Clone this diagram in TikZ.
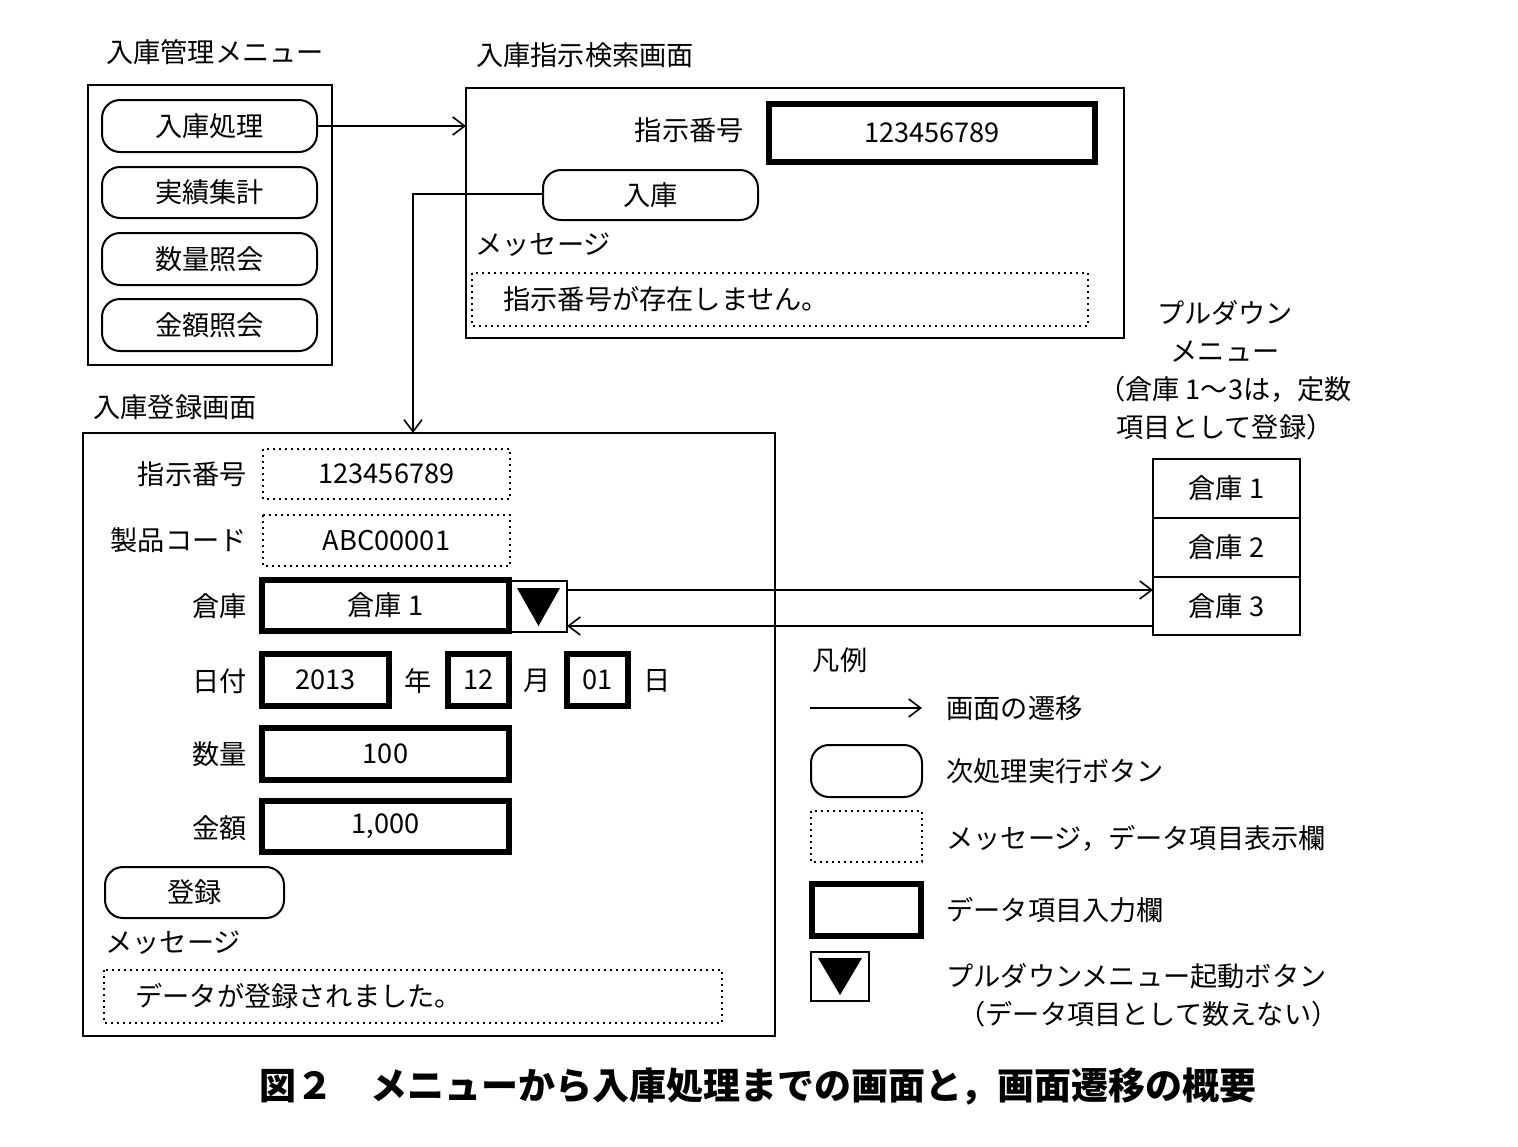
\documentclass[tikz,border=0pt]{standalone}
\usepackage{fontspec}
\setmainfont{Noto Sans CJK JP}
\usetikzlibrary{arrows.meta}
\begin{document}
\begin{tikzpicture}[x=0.5pt,y=-0.5pt,
 font=\fontsize{13.6pt}{15pt}\selectfont,
 frame/.style={draw,line width=1pt},
 btn/.style={draw,line width=1pt,rounded corners=9pt},
 disp/.style={draw,line width=1pt,dotted},
 inp/.style={draw,line width=2.6pt},
 arr/.style={-{Straight Barb[length=6pt,width=9pt]},line width=0.8pt},
 lbl/.style={anchor=east,inner sep=0pt},
 txt/.style={anchor=west,inner sep=0pt}]
\useasboundingbox (0,0) rectangle (1518,1146);
% menu
\node (t1) at (215,52) {入庫管理メニュー};
\draw[frame] (88,85) rectangle (332,365);
\draw[btn] (102,100) rectangle (317,152) node[midway] (b1) {入庫処理};
\draw[btn] (102,167) rectangle (317,218) node[midway] (b2) {実績集計};
\draw[btn] (102,233) rectangle (317,285) node[midway] (b3) {数量照会};
\draw[btn] (102,299) rectangle (317,351) node[midway] (b4) {金額照会};
% search screen
\node (t2) at (585,55) {入庫指示検索画面};
\draw[frame] (466,88) rectangle (1124,338);
\node[lbl] (l1) at (744,130) {指示番号};
\draw[inp] (769,104) rectangle (1095,162) node[midway] (s1) {123456789};
\draw[btn] (543,170) rectangle (758,220) node[midway] (bn) {入庫};
\node[txt] (m1) at (475,245) {メッセージ};
\draw[disp] (472,273) rectangle (1088,326);
\node[txt] (m1t) at (503,299) {指示番号が存在しません。};
\coordinate (a1s) at (317,126); \coordinate (a1e) at (466,126);
\draw[arr] (a1s) -- (a1e);
\coordinate (a2s) at (543,194); \coordinate (a2e) at (413,433);
\draw[arr] (a2s) -| (a2e);
% register screen
\node (t3) at (175,407) {入庫登録画面};
\draw[frame] (83,433) rectangle (775,1036);
\node[lbl] at (247,474) {指示番号};
\draw[disp] (263,449) rectangle (510,499) node[midway] {123456789};
\node[lbl] at (247,540) {製品コード};
\draw[disp] (263,515) rectangle (510,566) node[midway] {ABC00001};
\node[lbl] at (247,606) {倉庫};
\draw[inp] (262,580) rectangle (509,631) node[midway] {倉庫 1};
\draw[frame] (510,581) rectangle (567,632);
\fill (517,588) -- (560,588) -- (538.5,626) -- cycle;
\node[lbl] at (247,681) {日付};
\draw[inp] (262,654) rectangle (389,706) node[midway] {2013};
\node at (418,681) {年};
\draw[inp] (448,654) rectangle (509,706) node[midway] {12};
\node at (537,681) {月};
\draw[inp] (567,654) rectangle (628,706) node[midway] {01};
\node at (657,681) {日};
\node[lbl] at (247,754) {数量};
\draw[inp] (262,728) rectangle (509,780) node[midway] {100};
\node[lbl] at (247,828) {金額};
\draw[inp] (262,801) rectangle (509,852) node[midway] {1,000};
\draw[btn] (105,867) rectangle (284,918) node[midway] {登録};
\node[txt] at (105,943) {メッセージ};
\draw[disp] (104,970) rectangle (722,1023);
\node[txt] at (135,996) {データが登録されました。};
% pulldown
\node[align=center,font=\fontsize{13.6pt}{19pt}\selectfont] (pt) at (1225,370) {プルダウン\\メニュー\\（倉庫 1〜3は，定数\\項目として登録）};
\draw[frame] (1153,459) rectangle (1300,518) node[midway] {倉庫 1};
\draw[frame] (1153,518) rectangle (1300,577) node[midway] {倉庫 2};
\draw[frame] (1153,577) rectangle (1300,635) node[midway] (p3) {倉庫 3};
\coordinate (d1) at (567,590); \coordinate (d2) at (1153,590);
\coordinate (d3) at (1153,626); \coordinate (d4) at (567,626);
\draw[arr] (d1) -- (d2);
\draw[arr] (d3) -- (d4);
% legend
\node (lg) at (840,660) {凡例};
\coordinate (la) at (810,708); \coordinate (lb) at (922,708);
\draw[arr] (la) -- (lb);
\node[txt] at (946,708) {画面の遷移};
\draw[btn] (811,745) rectangle (922,797);
\node[txt] at (946,771) {次処理実行ボタン};
\draw[disp] (811,811) rectangle (922,862);
\node[txt] at (946,838) {メッセージ，データ項目表示欄};
\draw[inp] (812,884) rectangle (921,936);
\node[txt] at (946,910) {データ項目入力欄};
\draw[frame] (811,952) rectangle (869,1001);
\fill (818,958) -- (862,958) -- (840,995) -- cycle;
\node[txt] at (946,976) {プルダウンメニュー起動ボタン};
\node[txt] at (958,1014) {（データ項目として数えない）};
% caption
\node[font=\fontsize{18.5pt}{20pt}\selectfont\bfseries] (cap) at (758,1087) {図２　メニューから入庫処理までの画面と，画面遷移の概要};
\end{tikzpicture}
\end{document}
